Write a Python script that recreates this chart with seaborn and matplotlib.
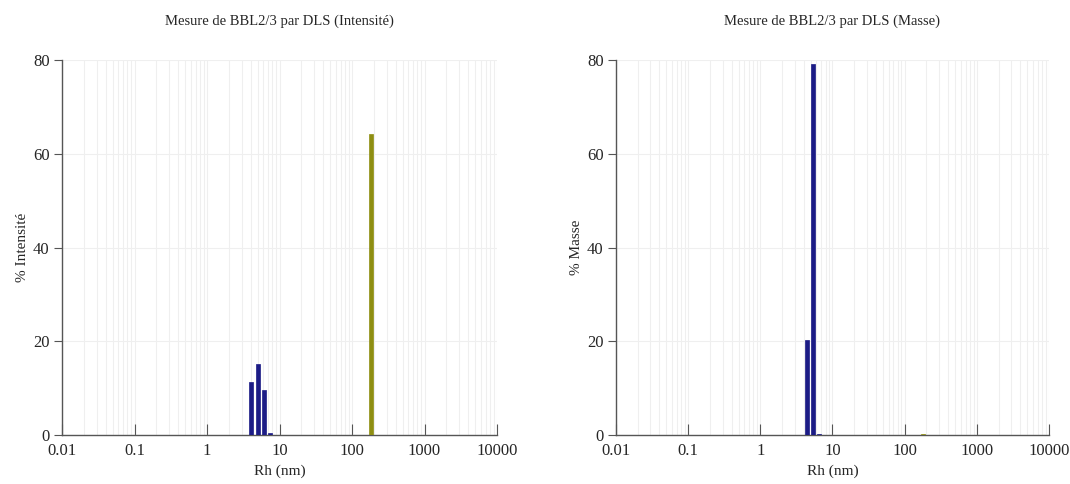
import numpy as np
import matplotlib
matplotlib.use("Agg")
import matplotlib.pyplot as plt
import seaborn as sns

sns.set_theme(style="white")
plt.rcParams['font.family'] = ['Liberation Serif', 'DejaVu Serif']

# Data (Rh in nm, % values)
rh_int_small = [4.1, 5.1, 6.2, 7.4]
pct_int_small = [11.4, 15.1, 9.7, 0.4]
rh_int_large = [180]
pct_int_large = [64.2]

rh_mass_small = [4.5, 5.3, 6.6]
pct_mass_small = [20.3, 79.2, 0.3]
rh_mass_large = [180]
pct_mass_large = [0.2]

xticks = [0.01, 0.1, 1, 10, 100, 1000, 10000]
xtick_labels = ['0.01', '0.1', '1', '10', '100', '1000', '10000']
yticks = [0, 20, 40, 60, 80]

BLUE = '#1c1c86'
OLIVE = '#8e8e12'
BAR_W = 0.055  # decades


def log_bars(ax, xs, ys, color):
    xs = np.asarray(xs, dtype=float)
    lo = xs * 10 ** (-BAR_W / 2)
    hi = xs * 10 ** (BAR_W / 2)
    ax.bar(lo, ys, width=hi - lo, align='edge', color=color,
           edgecolor=color, linewidth=0.5, zorder=3)


def style_axes(ax, title, ylabel):
    ax.set_xscale('log')
    ax.set_xlim(0.01, 10000)
    ax.set_ylim(0, 80)
    ax.set_xticks(xticks)
    ax.set_xticklabels(xtick_labels)
    ax.set_yticks(yticks)
    ax.grid(True, which='both', axis='x', color='#efefef', linewidth=0.8, zorder=0)
    ax.grid(True, which='major', axis='y', color='#efefef', linewidth=0.8, zorder=0)
    for s in ['top', 'right']:
        ax.spines[s].set_visible(False)
    for s in ['left', 'bottom']:
        ax.spines[s].set_color('#555555')
        ax.spines[s].set_linewidth(1.0)
    ax.tick_params(axis='x', which='major', direction='in', length=8, width=0.8,
                   color='#555555', labelsize=12, pad=6, bottom=True)
    ax.tick_params(axis='x', which='minor', length=0)
    ax.tick_params(axis='y', direction='out', length=6, width=0.8,
                   color='#555555', labelsize=12, pad=3, left=True)
    ax.set_title(title, fontsize=10.5, pad=25)
    ax.set_xlabel('Rh (nm)', fontsize=11, labelpad=4)
    ax.set_ylabel(ylabel, fontsize=11, labelpad=3)


fig = plt.figure(figsize=(10.7, 4.84), dpi=100)
ax1 = fig.add_axes([62 / 1070, 49 / 484, 435 / 1070, 375 / 484])
ax2 = fig.add_axes([616 / 1070, 49 / 484, 433 / 1070, 375 / 484])

log_bars(ax1, rh_int_small, pct_int_small, BLUE)
log_bars(ax1, rh_int_large, pct_int_large, OLIVE)
style_axes(ax1, 'Mesure de BBL2/3 par DLS (Intensité)', '% Intensité')

log_bars(ax2, rh_mass_small, pct_mass_small, BLUE)
log_bars(ax2, rh_mass_large, pct_mass_large, OLIVE)
style_axes(ax2, 'Mesure de BBL2/3 par DLS (Masse)', '% Masse')

fig.savefig('out.png', dpi=100)
